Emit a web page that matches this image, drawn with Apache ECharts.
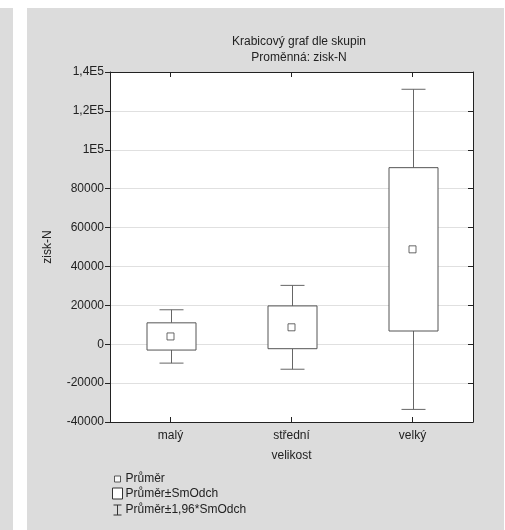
<!DOCTYPE html>
<html>
<head>
<meta charset="utf-8">
<script src="https://cdn.jsdelivr.net/npm/echarts@6/dist/echarts.min.js"></script>
<style>
  html, body { margin: 0; padding: 0; background: #ffffff; }
  #chart { width: 505px; height: 530px; }
</style>
</head>
<body>
<div id="chart"></div>
<script>
// ---- data ----
const categories = ['malý', 'střední', 'velký'];
const means = [4000, 8700, 48800];
const sds = [7000, 11000, 42000];
const yTicks = { min: -40000, max: 140000, interval: 20000 };
const legendNames = ['Průměr', 'Průměr±SmOdch', 'Průměr±1,96*SmOdch'];

const boxData = categories.map((c, i) => [i, means[i] - sds[i], means[i] + sds[i]]);
const whiskerData = categories.map((c, i) => [i, means[i] - 1.96 * sds[i], means[i] - sds[i], means[i] + sds[i], means[i] + 1.96 * sds[i]]);
const meanData = categories.map((c, i) => [i, means[i]]);

const FONT = 'Liberation Sans, Arial, sans-serif';
const TXT = '#222';
const chart = echarts.init(document.getElementById('chart'), null, { renderer: 'canvas' });

function fmtY(v) {
  if (Math.abs(v) >= 100000) {
    const e = Math.floor(Math.log10(Math.abs(v)));
    const m = Math.round(v / Math.pow(10, e) * 100) / 100;
    return String(m).replace('.', ',') + 'E' + e;
  }
  return String(v);
}

chart.setOption({
  backgroundColor: '#ffffff',
  animation: false,
  graphic: [
    { type: 'rect', z: -10, silent: true, shape: { x: 0, y: 8, width: 13, height: 522 }, style: { fill: '#dcdcdc' } },
    { type: 'rect', z: -10, silent: true, shape: { x: 27, y: 8, width: 477, height: 522 }, style: { fill: '#dcdcdc' } }
  ],
  title: {
    text: 'Krabicový graf dle skupin\nProměnná: zisk-N',
    left: 299, top: 34, padding: 0, textAlign: 'center',
    textStyle: { fontFamily: FONT, fontSize: 12, fontWeight: 'normal', color: TXT, lineHeight: 16 }
  },
  legend: {
    orient: 'vertical', left: 110, top: 473, padding: 0,
    itemWidth: 10, itemHeight: 11, itemGap: 2.5,
    selectedMode: false,
    textStyle: { fontFamily: FONT, fontSize: 12, color: TXT, padding: [0, 0, 0, -2] },
    data: [
      { name: legendNames[0], icon: 'path://M0,0 M10,11 M2,2.5 L8,2.5 L8,8.5 L2,8.5 Z',
        itemStyle: { color: '#fff', borderColor: '#333', borderWidth: 1 } },
      { name: legendNames[1], icon: 'path://M0,0 L10,0 L10,11 L0,11 Z',
        itemStyle: { color: '#fff', borderColor: '#333', borderWidth: 1 } },
      { name: legendNames[2], icon: 'path://M0,0 M10,11 M1,0.5 L9,0.5 M5,0.5 L5,10.5 M1,10.5 L9,10.5',
        itemStyle: { color: 'none', borderColor: '#333', borderWidth: 1 } }
    ]
  },
  grid: { left: 110, right: 32, top: 72, bottom: 108, containLabel: false,
          show: true, backgroundColor: '#ffffff', borderWidth: 0 },
  xAxis: [
    {
      type: 'category', data: categories, position: 'bottom', boundaryGap: true,
      axisLine: { show: true, onZero: false, lineStyle: { color: '#222', width: 1 } },
      axisTick: { show: true, inside: true, alignWithLabel: true, length: 5, lineStyle: { color: '#222' } },
      axisLabel: { fontFamily: FONT, fontSize: 12, color: TXT, margin: 8 },
      splitLine: { show: false },
      name: 'velikost', nameLocation: 'middle', nameGap: 28,
      nameTextStyle: { fontFamily: FONT, fontSize: 12, color: TXT }
    },
    {
      type: 'category', data: categories, position: 'top', boundaryGap: true,
      axisLine: { show: true, onZero: false, lineStyle: { color: '#222', width: 1 } },
      axisTick: { show: true, inside: true, alignWithLabel: true, length: 5, lineStyle: { color: '#222' } },
      axisLabel: { show: false }, splitLine: { show: false }
    }
  ],
  yAxis: [
    {
      type: 'value', position: 'left', min: yTicks.min, max: yTicks.max, interval: yTicks.interval,
      axisLine: { show: true, onZero: false, lineStyle: { color: '#222', width: 1 } },
      axisTick: { show: true, inside: false, length: 5, lineStyle: { color: '#222' } },
      axisLabel: { fontFamily: FONT, fontSize: 12, color: TXT, margin: 6, formatter: fmtY },
      splitLine: { show: true, lineStyle: { color: '#e0e0e0', width: 1 } },
      name: 'zisk-N', nameLocation: 'middle', nameGap: 56, nameRotate: 90,
      nameTextStyle: { fontFamily: FONT, fontSize: 12, color: TXT }
    },
    {
      type: 'value', position: 'right', min: yTicks.min, max: yTicks.max, interval: yTicks.interval,
      axisLine: { show: true, onZero: false, lineStyle: { color: '#222', width: 1 } },
      axisTick: { show: true, inside: true, length: 5, lineStyle: { color: '#222' } },
      axisLabel: { show: false }, splitLine: { show: false }
    }
  ],
  series: [
    {
      name: legendNames[2], type: 'custom', xAxisIndex: 0, yAxisIndex: 0, z: 2,
      data: whiskerData,
      itemStyle: { color: 'none', borderColor: '#333' },
      renderItem: function (params, api) {
        const x = api.value(0);
        const pWlo = api.coord([x, api.value(1)]);
        const pBlo = api.coord([x, api.value(2)]);
        const pBhi = api.coord([x, api.value(3)]);
        const pWhi = api.coord([x, api.value(4)]);
        const cx = Math.round(pWlo[0]) + 0.5;
        const cw = 12;
        const st = { stroke: '#666', lineWidth: 1 };
        return {
          type: 'group',
          children: [
            { type: 'line', shape: { x1: cx, y1: pWhi[1], x2: cx, y2: pBhi[1] }, style: st },
            { type: 'line', shape: { x1: cx, y1: pBlo[1], x2: cx, y2: pWlo[1] }, style: st },
            { type: 'line', shape: { x1: cx - cw, y1: pWhi[1], x2: cx + cw, y2: pWhi[1] }, style: st },
            { type: 'line', shape: { x1: cx - cw, y1: pWlo[1], x2: cx + cw, y2: pWlo[1] }, style: st }
          ]
        };
      }
    },
    {
      name: legendNames[1], type: 'custom', xAxisIndex: 0, yAxisIndex: 0, z: 3,
      data: boxData,
      itemStyle: { color: '#fff', borderColor: '#333' },
      renderItem: function (params, api) {
        const x = api.value(0);
        const pLo = api.coord([x, api.value(1)]);
        const pHi = api.coord([x, api.value(2)]);
        const w = 49;
        const cx = Math.round(pLo[0]) + 0.5;
        return {
          type: 'rect',
          shape: { x: cx - w / 2, y: pHi[1], width: w, height: pLo[1] - pHi[1] },
          style: { fill: '#fff', stroke: '#555', lineWidth: 1 }
        };
      }
    },
    {
      name: legendNames[0], type: 'scatter', xAxisIndex: 0, yAxisIndex: 0, z: 4,
      data: meanData, symbol: 'rect', symbolSize: 7,
      itemStyle: { color: '#fff', borderColor: '#444', borderWidth: 1 }
    }
  ]
});
</script>
</body>
</html>
